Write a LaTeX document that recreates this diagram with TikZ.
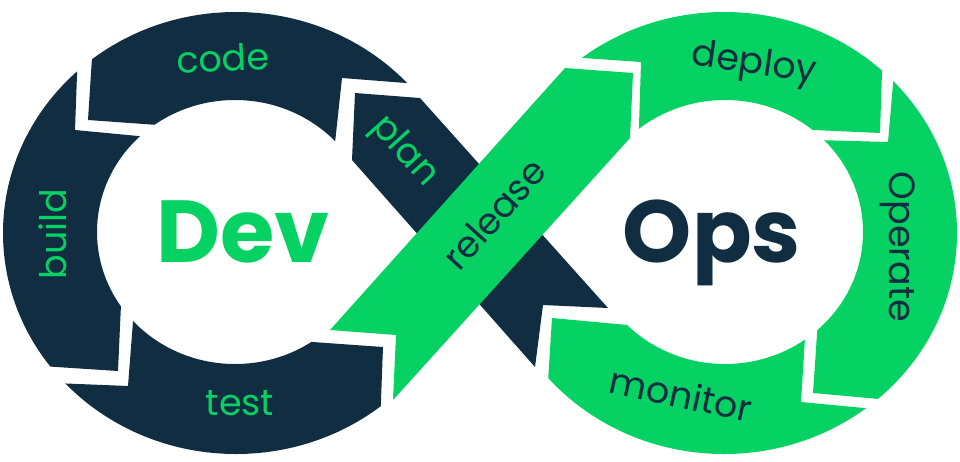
\documentclass[tikz,border=0pt]{standalone}
\usepackage{fontspec}
\setmainfont{Poppins}
\definecolor{navy}{HTML}{102D42}
\definecolor{devgreen}{HTML}{05D263}
\newcommand{\leftseg}[1]{\begin{scope}\clip #1;
  \fill[navy,even odd rule] (236,233) ellipse [x radius=233pt, y radius=221pt]
     (235,232) ellipse [x radius=138pt, y radius=132pt];\end{scope}}
\newcommand{\rightseg}[1]{\begin{scope}\clip #1;
  \fill[devgreen,even odd rule] (724,233) ellipse [x radius=233pt, y radius=221pt]
     (725,232) ellipse [x radius=138pt, y radius=132pt];\end{scope}}
\begin{document}
\begin{tikzpicture}[x=1pt,y=-1pt,
  lbl/.style={font=\fontsize{36.5}{38}\selectfont, inner sep=0pt},
  big/.style={font=\fontsize{88}{90}\selectfont\bfseries, inner sep=0pt, anchor=base}]
\useasboundingbox (0,0) rectangle (960,461);
\fill[white] (0,0) rectangle (960,461);
% left loop: code, build, test
\leftseg{(97,-20) -- (470,-20) -- (470,88) -- (342,78) -- (331,180) -- (200,128) -- (88,120) -- cycle}
\leftseg{(79,20) -- (75,130) -- (180,140) -- (123,260) -- (118,371) -- (-20,362) -- (-20,20) -- cycle}
\leftseg{(-20,380) -- (128,386) -- (137,270) -- (270,339) -- (383,347) -- (378,480) -- (-20,480) -- cycle}
% right loop: deploy, operate, monitor
\rightseg{(540,55) -- (641,62) -- (637,190) -- (770,128) -- (880,133) -- (885,-20) -- (540,-20) -- cycle}
\rightseg{(902,-20) -- (888,142) -- (780,139) -- (820,290) -- (813,393) -- (1000,410) -- (1000,-20) -- cycle}
\rightseg{(808,290) -- (801,402) -- (1000,421) -- (1000,480) -- (542,480) -- (548,382) -- (552,318) -- (660,328) -- cycle}
% crossing bands
\fill[navy] (355,93) -- (420,98) -- (608,308) -- (543,305) -- (535,367) -- (352,160) -- cycle;
\fill[devgreen] (330,330) -- (565,68) -- (633,73) -- (630,138) -- (393,400) -- (396,335) -- cycle;
% labels
\node[lbl, text=devgreen, rotate=3] (code) at (223,58) {code};
\node[lbl, text=devgreen, rotate=90] (build) at (53,234) {build};
\node[lbl, text=devgreen] (test) at (240,403) {test};
\node[lbl, text=devgreen, rotate=-48] (plan) at (404,152) {plan};
\node[lbl, text=navy, rotate=48] (release) at (494,214) {release};
\node[lbl, text=navy, rotate=-8] (deploy) at (754,65) {deploy};
\node[lbl, text=navy, rotate=-90] (operate) at (898,247) {Operate};
\node[lbl, text=navy, rotate=-12] (monitor) at (681,394) {monitor};
\node[big, text=devgreen] (dev) at (243,262) {Dev};
\node[big, text=navy] (ops) at (712,262) {Ops};
\end{tikzpicture}
\end{document}
